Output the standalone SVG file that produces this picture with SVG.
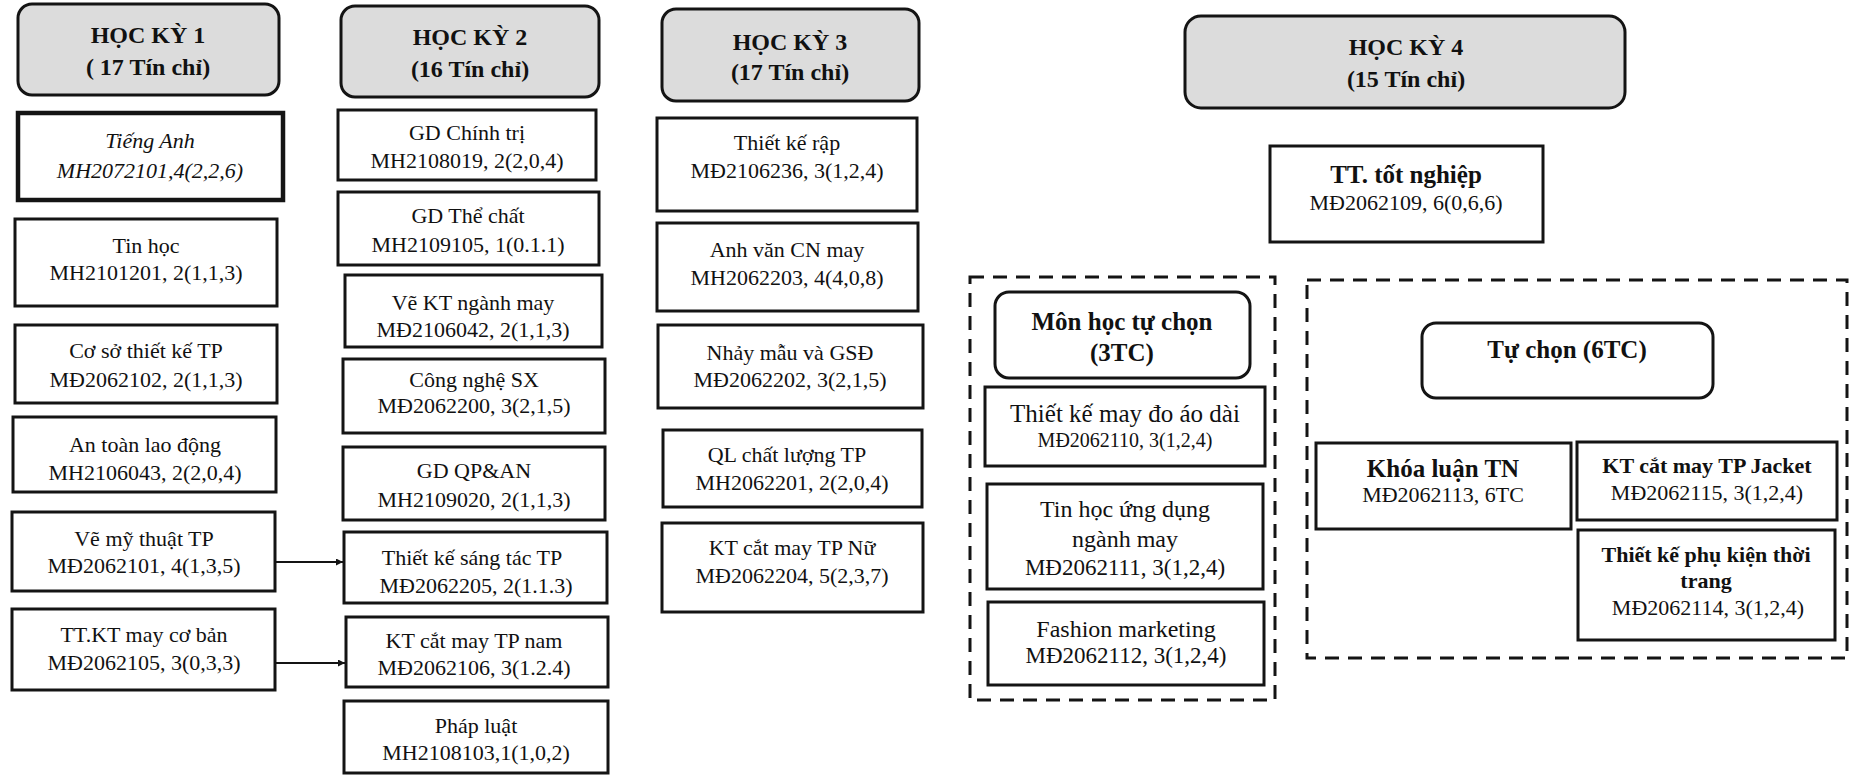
<svg xmlns="http://www.w3.org/2000/svg" width="1850" height="775" viewBox="0 0 1850 775">
<defs>
<style>
.bg{fill:#ffffff}
.hdr{fill:#dcdcdc;stroke:#141414;stroke-width:3}
.box{fill:#ffffff;stroke:#141414;stroke-width:3}
.thick{fill:#ffffff;stroke:#141414;stroke-width:4.5}
.rnd{fill:#ffffff;stroke:#141414;stroke-width:3}
.dash{fill:none;stroke:#141414;stroke-width:3;stroke-dasharray:14 9}
.ht{font-family:"Liberation Serif",serif;font-weight:bold;font-size:24px;text-anchor:middle;fill:#111}
.t{font-family:"Liberation Serif",serif;font-size:22px;text-anchor:middle;fill:#111}
.tm{font-family:"Liberation Serif",serif;font-size:24px;text-anchor:middle;fill:#111}
.tc{font-family:"Liberation Serif",serif;font-size:23px;text-anchor:middle;fill:#111}
.ti{font-family:"Liberation Serif",serif;font-size:22px;font-style:italic;text-anchor:middle;fill:#111}
.tb{font-family:"Liberation Serif",serif;font-size:22px;font-weight:bold;text-anchor:middle;fill:#111}
.tbl{font-family:"Liberation Serif",serif;font-size:25px;font-weight:bold;text-anchor:middle;fill:#111}
.ts{font-family:"Liberation Serif",serif;font-size:20px;text-anchor:middle;fill:#111}
.tl{font-family:"Liberation Serif",serif;font-size:25px;text-anchor:middle;fill:#111}
.conn{stroke:#141414;stroke-width:2;fill:none}
</style>
<marker id="arr" viewBox="0 0 10 10" refX="10" refY="5" markerWidth="7" markerHeight="7" orient="auto" markerUnits="userSpaceOnUse">
<path d="M0,0 L10,5 L0,10 z" fill="#141414"/>
</marker>
</defs>
<rect class="bg" x="0" y="0" width="1850" height="775"/>

<!-- Học kỳ 1 -->
<g id="hk1"><rect class="hdr" x="18" y="4" width="261" height="91" rx="14"/><text class="ht" x="148" y="43">HỌC KỲ 1</text><text class="ht" x="148" y="75">( 17 Tín chỉ)</text></g>
<g id="tieng-anh"><rect class="thick" x="18" y="113" width="265" height="87"/><text class="ti" x="150" y="148">Tiếng Anh</text><text class="ti" x="150" y="178">MH2072101,4(2,2,6)</text></g>
<g id="tin-hoc"><rect class="box" x="15" y="219" width="262" height="87"/><text class="t" x="146" y="253">Tin học</text><text class="t" x="146" y="280">MH2101201, 2(1,1,3)</text></g>
<g id="co-so-tk"><rect class="box" x="15" y="325" width="262" height="78"/><text class="t" x="146" y="358">Cơ sở thiết kế TP</text><text class="t" x="146" y="387">MĐ2062102, 2(1,1,3)</text></g>
<g id="an-toan"><rect class="box" x="13" y="417" width="263" height="75"/><text class="t" x="145" y="452">An toàn lao động</text><text class="t" x="145" y="480">MH2106043, 2(2,0,4)</text></g>
<g id="ve-my-thuat"><rect class="box" x="12" y="512" width="263" height="79"/><text class="t" x="144" y="546">Vẽ mỹ thuật TP</text><text class="t" x="144" y="573">MĐ2062101, 4(1,3,5)</text></g>
<g id="tt-kt-may"><rect class="box" x="12" y="609" width="263" height="81"/><text class="t" x="144" y="642">TT.KT may cơ bản</text><text class="t" x="144" y="670">MĐ2062105, 3(0,3,3)</text></g>

<!-- Học kỳ 2 -->
<g id="hk2"><rect class="hdr" x="341" y="6" width="258" height="91" rx="14"/><text class="ht" x="470" y="45">HỌC KỲ 2</text><text class="ht" x="470" y="77">(16 Tín chỉ)</text></g>
<g id="gd-chinh-tri"><rect class="box" x="338" y="110" width="258" height="70"/><text class="t" x="467" y="140">GD Chính trị</text><text class="t" x="467" y="168">MH2108019, 2(2,0,4)</text></g>
<g id="gd-the-chat"><rect class="box" x="338" y="192" width="261" height="73"/><text class="t" x="468" y="223">GD Thể chất</text><text class="t" x="468" y="252">MH2109105, 1(0.1.1)</text></g>
<g id="ve-kt"><rect class="box" x="345" y="275" width="257" height="72"/><text class="t" x="473" y="310">Vẽ KT ngành may</text><text class="t" x="473" y="337">MĐ2106042, 2(1,1,3)</text></g>
<g id="cong-nghe"><rect class="box" x="343" y="359" width="262" height="74"/><text class="t" x="474" y="387">Công nghệ SX</text><text class="t" x="474" y="413">MĐ2062200, 3(2,1,5)</text></g>
<g id="gd-qp"><rect class="box" x="343" y="447" width="262" height="73"/><text class="t" x="474" y="478">GD QP&amp;AN</text><text class="t" x="474" y="507">MH2109020, 2(1,1,3)</text></g>
<g id="tk-sang-tac"><rect class="box" x="344" y="532" width="263" height="71"/><text class="t" x="472" y="565">Thiết kế sáng tác TP</text><text class="t" x="476" y="593">MĐ2062205, 2(1.1.3)</text></g>
<g id="kt-nam"><rect class="box" x="346" y="617" width="262" height="70"/><text class="t" x="474" y="648">KT cắt may TP nam</text><text class="t" x="474" y="675">MĐ2062106, 3(1.2.4)</text></g>
<g id="phap-luat"><rect class="box" x="344" y="701" width="264" height="72"/><text class="t" x="476" y="733">Pháp luật</text><text class="t" x="476" y="760">MH2108103,1(1,0,2)</text></g>

<!-- Học kỳ 3 -->
<g id="hk3"><rect class="hdr" x="662" y="9" width="257" height="92" rx="14"/><text class="ht" x="790" y="50">HỌC KỲ 3</text><text class="ht" x="790" y="80">(17 Tín chỉ)</text></g>
<g id="tk-rap"><rect class="box" x="657" y="118" width="260" height="93"/><text class="t" x="787" y="150">Thiết kế rập</text><text class="t" x="787" y="178">MĐ2106236, 3(1,2,4)</text></g>
<g id="anh-van"><rect class="box" x="657" y="223" width="261" height="88"/><text class="t" x="787" y="257">Anh văn CN may</text><text class="t" x="787" y="285">MH2062203, 4(4,0,8)</text></g>
<g id="nhay-mau"><rect class="box" x="658" y="325" width="265" height="83"/><text class="t" x="790" y="360">Nhảy mẫu và GSĐ</text><text class="t" x="790" y="387">MĐ2062202, 3(2,1,5)</text></g>
<g id="ql-chat-luong"><rect class="box" x="663" y="430" width="259" height="77"/><text class="t" x="787" y="462">QL chất lượng TP</text><text class="t" x="792" y="490">MH2062201, 2(2,0,4)</text></g>
<g id="kt-nu"><rect class="box" x="662" y="523" width="261" height="89"/><text class="t" x="792" y="555">KT cắt may TP Nữ</text><text class="t" x="792" y="583">MĐ2062204, 5(2,3,7)</text></g>

<!-- Học kỳ 4 -->
<g id="hk4"><rect class="hdr" x="1185" y="16" width="440" height="92" rx="16"/><text class="ht" x="1406" y="55">HỌC KỲ 4</text><text class="ht" x="1406" y="87">(15 Tín chỉ)</text></g>
<g id="tt-tot-nghiep"><rect class="box" x="1270" y="146" width="273" height="96"/><text class="tbl" x="1406" y="183">TT. tốt nghiệp</text><text class="t" x="1406" y="210">MĐ2062109, 6(0,6,6)</text></g>

<g id="nhom-tu-chon-3tc"><rect class="dash" x="970" y="277" width="305" height="423"/></g>
<g id="mon-hoc-tu-chon"><rect class="rnd" x="995" y="292" width="255" height="86" rx="14"/><text class="tbl" x="1122" y="330">Môn học tự chọn</text><text class="tbl" x="1122" y="361">(3TC)</text></g>
<g id="tk-ao-dai"><rect class="box" x="985" y="387" width="280" height="79"/><text class="tl" x="1125" y="422">Thiết kế may đo áo dài</text><text class="ts" x="1125" y="447">MĐ2062110, 3(1,2,4)</text></g>
<g id="tin-hoc-ud"><rect class="box" x="987" y="484" width="276" height="105"/><text class="tm" x="1125" y="517">Tin học ứng dụng</text><text class="tm" x="1125" y="547">ngành may</text><text class="tc" x="1125" y="575">MĐ2062111, 3(1,2,4)</text></g>
<g id="fashion-mkt"><rect class="box" x="988" y="602" width="276" height="83"/><text class="tm" x="1126" y="637">Fashion marketing</text><text class="tc" x="1126" y="663">MĐ2062112, 3(1,2,4)</text></g>

<g id="nhom-tu-chon-6tc"><rect class="dash" x="1307" y="280" width="540" height="378"/></g>
<g id="tu-chon-6tc"><rect class="rnd" x="1422" y="323" width="291" height="75" rx="14"/><text class="tbl" x="1567" y="358">Tự chọn (6TC)</text></g>
<g id="khoa-luan"><rect class="box" x="1316" y="443" width="255" height="86"/><text class="tbl" x="1443" y="477">Khóa luận TN</text><text class="t" x="1443" y="502">MĐ2062113, 6TC</text></g>
<g id="kt-jacket"><rect class="box" x="1577" y="442" width="260" height="78"/><text class="tb" x="1707" y="473">KT cắt may TP Jacket</text><text class="t" x="1707" y="500">MĐ2062115, 3(1,2,4)</text></g>
<g id="tk-phu-kien"><rect class="box" x="1578" y="530" width="257" height="110"/><text class="tb" x="1706" y="562">Thiết kế phụ kiện thời</text><text class="tb" x="1706" y="588">trang</text><text class="t" x="1708" y="615">MĐ2062114, 3(1,2,4)</text></g>

<!-- Connectors -->
<g id="connectors">
<line class="conn" x1="276" y1="562" x2="343" y2="562" marker-end="url(#arr)"/>
<line class="conn" x1="276" y1="663" x2="345" y2="663" marker-end="url(#arr)"/>
</g>
</svg>
